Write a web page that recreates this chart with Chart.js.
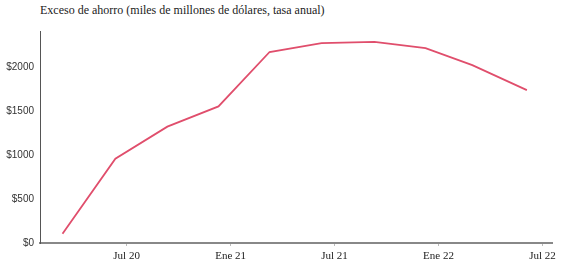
<!DOCTYPE html>
<html>
<head>
<meta charset="utf-8">
<script src="https://cdn.jsdelivr.net/npm/chart.js@4.4.0/dist/chart.umd.min.js"></script>
<style>
  html, body { margin: 0; padding: 0; background: #fff; }
  #wrap { position: relative; width: 564px; height: 269px; }
  #title { position: absolute; left: 40px; top: 3px; font-family: "Liberation Serif", serif; font-size: 12px; color: #222; white-space: nowrap; }
  canvas { position: absolute; left: 0; top: 0; }
</style>
</head>
<body>
<div id="wrap">
  <div id="title">Exceso de ahorro (miles de millones de dólares, tasa anual)</div>
  <canvas id="c" width="564" height="269"></canvas>
</div>
<script>
// x positions in months since Jan 2020 (0 = 1 Ene 2020)
const meses = [2.3, 5.35, 8.35, 11.3, 14.25, 17.25, 20.3, 23.25, 25.95, 29.1];
// excess savings, billions USD (annual rate)
const ahorro = [105, 960, 1325, 1555, 2175, 2275, 2290, 2220, 2025, 1740];
const tickPos = [6, 12, 18, 24, 30];
const tickLabels = ["Jul 20", "Ene 21", "Jul 21", "Ene 22", "Jul 22"];
const yTicks = [0, 500, 1000, 1500, 2000];

const pts = meses.map((m, i) => ({ x: m, y: ahorro[i] }));

new Chart(document.getElementById('c'), {
  type: 'line',
  data: {
    datasets: [{
      data: pts,
      borderColor: 'rgb(224,78,108)',
      borderWidth: 1.8,
      pointRadius: 0,
      tension: 0,
      fill: false
    }]
  },
  options: {
    responsive: false,
    animation: false,
    layout: { padding: { top: 31, right: 12, left: 0, bottom: 0 } },
    plugins: { legend: { display: false }, tooltip: { enabled: false } },
    scales: {
      x: {
        type: 'linear',
        min: 1.0,
        max: 30.55,
        afterBuildTicks: s => { s.ticks = tickPos.map(v => ({ value: v })); },
        afterFit: s => { s.height = 26; },
        grid: { display: true, drawOnChartArea: false, drawTicks: true, tickLength: 3, color: '#bbb' },
        border: { display: true, color: '#888', width: 2 },
        ticks: {
          padding: 4,
          autoSkip: false,
          maxRotation: 0,
          font: { family: '"Liberation Serif", serif', size: 11 },
          color: '#222',
          callback: (v) => { const i = tickPos.indexOf(v); return i >= 0 ? tickLabels[i] : ''; }
        }
      },
      y: {
        type: 'linear',
        min: 0,
        max: 2414,
        afterBuildTicks: s => { s.ticks = yTicks.map(v => ({ value: v })); },
        afterFit: s => { s.width = 40; },
        grid: { display: false, drawTicks: false },
        border: { display: true, color: '#555', width: 1 },
        ticks: {
          padding: 6,
          font: { family: '"Liberation Sans", sans-serif', size: 10 },
          color: '#333',
          callback: v => '$' + v
        }
      }
    }
  }
});
</script>
</body>
</html>
